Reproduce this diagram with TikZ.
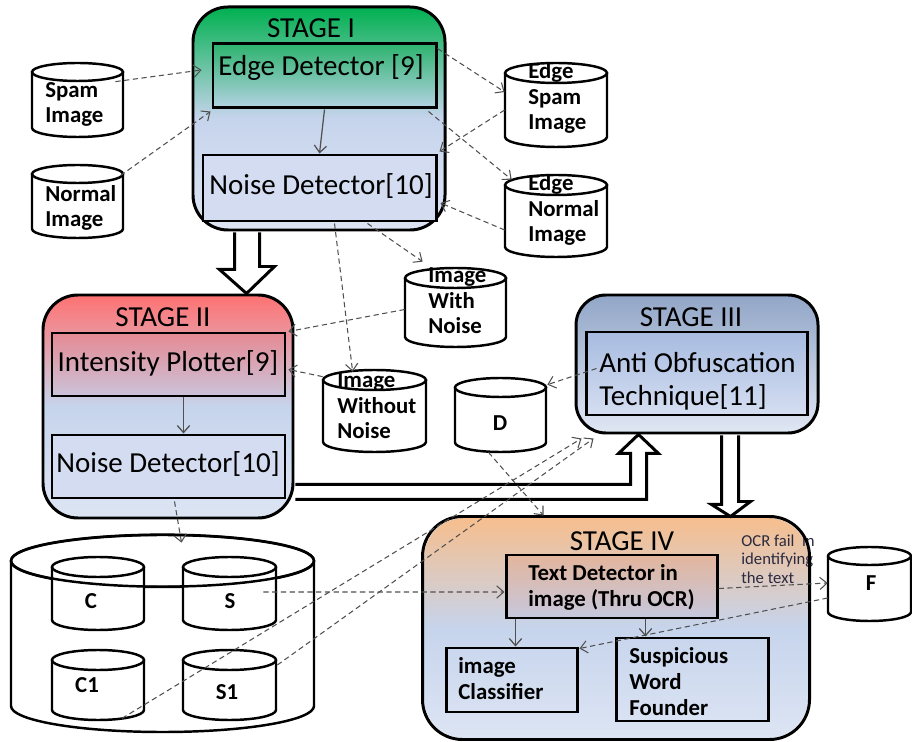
\documentclass[tikz,border=0pt]{standalone}
\usepackage{fontspec}
\setmainfont{Carlito}
\usetikzlibrary{arrows.meta,fit,calc}

\definecolor{sOneTop}{HTML}{00B050}
\definecolor{midBlue}{HTML}{C6D4EC}
\definecolor{lowBlue}{HTML}{DDE5F4}
\definecolor{boxBlue}{HTML}{D3DCF0}
\definecolor{edTop}{HTML}{2DB36E}
\definecolor{edBot}{HTML}{B4D2E2}
\definecolor{sTwoTop}{HTML}{FF7272}
\definecolor{ipTop}{HTML}{E58A93}
\definecolor{ipBot}{HTML}{CBC3DA}
\definecolor{sThreeTop}{HTML}{92A6C7}
\definecolor{sThreeBot}{HTML}{E0E7F4}
\definecolor{aoTop}{HTML}{A7BBE0}
\definecolor{aoBot}{HTML}{D5DEF1}
\definecolor{sFourTop}{HTML}{F6BE8E}
\definecolor{tdTop}{HTML}{E3B59C}
\definecolor{tdBot}{HTML}{C6C8DE}
\definecolor{conn}{HTML}{505050}
\definecolor{ocr}{HTML}{2A2A40}

\tikzset{
  stagebox/.style={draw=black, line width=1.7pt, rounded corners=0.7cm, inner sep=0pt},
  innerbox/.style={draw=black, line width=1.7pt, inner sep=0pt},
  cylline/.style={draw=black, line width=1.4pt},
  dconn/.style={draw=conn, line width=0.6pt, dash pattern=on 3pt off 2pt, -{Straight Barb[length=4pt,width=7pt]}},
  sconn/.style={draw=conn, line width=0.7pt, -{Straight Barb[length=4pt,width=7pt]}},
  hollow/.style={draw=black, line width=1.7pt, fill=white, line join=miter},
  ttl/.style={font=\fontsize{16.5}{19.3}\selectfont, inner sep=0pt, align=left},
  bl/.style={font=\fontsize{13}{14.7}\selectfont\bfseries, align=left, inner sep=0pt},
  ocrtxt/.style={font=\fontsize{9.5}{10.5}\selectfont, text=ocr, align=left, inner sep=0pt},
}

% name x1 y1 x2 y2 ry
\newcommand\dbcyl[6]{%
  \node[fit={(#2,#3)(#4,#5)}, inner sep=0pt] (#1) {};
  \path[fill=white] (#2,#3+#6) -- (#2,#5-#6)
     arc[start angle=180, end angle=0, x radius={(#4-#2)/2}, y radius=#6]
     -- (#4,#3+#6)
     arc[start angle=0, end angle=-180, x radius={(#4-#2)/2}, y radius=#6] -- cycle;
  \draw[cylline] (#2,#3+#6) -- (#2,#5-#6)
     arc[start angle=180, end angle=0, x radius={(#4-#2)/2}, y radius=#6]
     -- (#4,#3+#6);
  \draw[cylline] ({(#2+#4)/2},#3+#6) ellipse[x radius={(#4-#2)/2}, y radius=#6];
}

\begin{document}
\begin{tikzpicture}[x=0.02cm, y=-0.02cm]
\useasboundingbox (0,0) rectangle (912,742);
\clip (0,0) rectangle (912,742);

% ---------- stages ----------
\node[stagebox, fit={(193,7)(445,230)}, top color=sOneTop, bottom color=lowBlue, middle color=midBlue] (st1) {};
\node[stagebox, fit={(43,295)(293,518)}, top color=sTwoTop, bottom color=lowBlue, middle color=midBlue] (st2) {};
\node[stagebox, rounded corners=0.6cm, fit={(576,295)(818,433)}, top color=sThreeTop, bottom color=sThreeBot] (st3) {};
\node[stagebox, draw=none, rounded corners=0.8cm, fit={(424,518)(808,738)}, top color=sFourTop, bottom color=lowBlue, middle color=midBlue] (st4) {};

\node[ttl, anchor=base] (t1) at (311,38) {STAGE I};
\node[ttl, anchor=base] (t2) at (163,327) {STAGE II};
\node[ttl, anchor=base] (t3) at (691,327) {STAGE III};
\node[ttl, anchor=base] (t4) at (622,550) {STAGE IV};

% ---------- inner boxes ----------
\node[innerbox, fit={(213,44)(436,108)}, top color=edTop, bottom color=edBot] (ed) {};
\node[innerbox, fit={(203,155)(436,221)}, fill=boxBlue] (nd1) {};
\node[innerbox, fit={(52,333)(285,396)}, top color=ipTop, bottom color=ipBot] (ip) {};
\node[innerbox, fit={(52,435)(285,498)}, fill=boxBlue] (nd2) {};
\node[innerbox, fit={(586,332)(807,415)}, top color=aoTop, bottom color=aoBot] (ao) {};
\node[innerbox, fit={(506,555)(717,618)}, top color=tdTop, bottom color=tdBot] (td) {};
\node[innerbox, fit={(446,648)(577,712)}] (ic) {};
\node[innerbox, fit={(616,638)(768,721)}] (sw) {};

\node[ttl, anchor=base] (led) at (321,76) {Edge Detector [9]};
\node[ttl, anchor=base] (lnd1) at (321,195) {Noise Detector[10]};
\node[ttl, anchor=base] (lip) at (168,372) {Intensity Plotter[9]};
\node[ttl, anchor=base] (lnd2) at (168,473) {Noise Detector[10]};
\node[ttl, anchor=base west] (lao) at (599,406) {Anti Obfuscation\\Technique[11]};
\node[bl, anchor=base west] (ltd) at (528,606) {Text Detector in\\image (Thru OCR)};
\node[bl, anchor=base west] (lic) at (458,699) {image\\Classifier};
\node[bl, anchor=base west] (lsw) at (629,715) {Suspicious\\Word\\Founder};

% ---------- cylinders ----------
\dbcyl{sp}{32}{63}{123}{137}{9}
\dbcyl{nm}{32}{165}{123}{238}{9}
\dbcyl{es}{505}{63}{607}{147}{10}
\dbcyl{en}{505}{175}{607}{257}{10}
\dbcyl{iwn}{405}{268}{506}{347}{10}
\dbcyl{iwon}{323}{370}{426}{452}{10}
\dbcyl{dd}{455}{378}{546}{452}{9.5}
\dbcyl{ff}{828}{547}{911}{621}{9}
\dbcyl{bc}{11}{535}{314}{732}{26}
\dbcyl{cc}{52}{557}{144}{630}{10}
\dbcyl{cs}{183}{557}{276}{630}{10}
\dbcyl{cc1}{52}{650}{144}{720}{10}
\dbcyl{cs1}{183}{650}{276}{720}{10}
\draw[cylline] ($(bc.north)+(0,26)$) ellipse[x radius=151.5, y radius=26];

\node[bl, anchor=base west] (lsp) at (45,123) {Spam\\Image};
\node[bl, anchor=base west] (lnm) at (45,227) {Normal\\Image};
\node[bl, anchor=base west] (les) at (528,130) {Edge\\Spam\\Image};
\node[bl, anchor=base west] (len) at (528,242) {Edge\\Normal\\Image};
\node[bl, anchor=base west] (liwn) at (428,334) {Image\\With\\Noise};
\node[bl, anchor=base west] (liwon) at (337,439) {Image\\Without\\Noise};
\node[bl, anchor=base] (ldd) at (500,431) {D};
\node[bl, anchor=base] (lff) at (871,590) {F};
\node[bl, anchor=base] (lcc) at (91,608) {C};
\node[bl, anchor=base] (lcs) at (230,608) {S};
\node[bl, anchor=base] (lcc1) at (87,692) {C1};
\node[bl, anchor=base] (lcs1) at (227,699) {S1};

\node[ocrtxt, anchor=base west] (locr) at (741,583) {OCR fail\ \ in\\identifying\\the text};
\draw[stagebox, rounded corners=0.8cm] (st4.north west) rectangle (st4.south east);

% ---------- hollow arrows ----------
\draw[hollow] ($(st1.south west)+(43,1)$) -- ++(0,37) -- ++(-15,0)
   -- ($(st2.north west)+(205,0)$) -- ++(28,-27) -- ++(-15,0)
   -- ($(st1.south west)+(68,1)$);
\draw[hollow] ($(st3.south west)+(147,1)$) -- ++(0,69) -- ++(-10,0)
   -- ($(st4.north west)+(308,0)$) -- ++(20,-15) -- ++(-12,0)
   -- ($(st3.south west)+(164,1)$);
\draw[hollow] ($(st2.south east)+(1,-35)$) -- ($(st3.south west)+(56,50)$) -- ++(0,-31) -- ++(-12,0)
   -- ($(st3.south west)+(64,0)$) -- ++(20,19) -- ++(-12,0) -- ++(0,46)
   -- ($(st2.south east)+(1,-20)$);

% ---------- solid arrows ----------
\draw[sconn] (ed.south) -- (nd1.north);
\draw[sconn] ($(ip.south)+(15,0)$) -- ($(nd2.north)+(15,0)$);
\draw[sconn] ($(td.south west)+(11,0)$) -- ($(ic.north west)+(71,0)$);
\draw[sconn] ($(td.south west)+(141,0)$) -- ($(sw.north west)+(31,0)$);

% ---------- dashed arrows ----------
\draw[dconn] ($(sp.north east)+(-8,19)$) -- ($(ed.west)+(-10,-6)$);
\draw[dconn] ($(nm.north east)+(-3,11)$) -- ($(ed.south west)+(-1,2)$);
\draw[dconn] ($(ed.north east)+(0,6)$) -- ($(es.west)+(0,-13)$);
\draw[dconn] ($(ed.south east)+(-9,2)$) -- ($(en.north west)+(7,5)$);
\draw[dconn] ($(es.west)+(0,5)$) -- ($(nd1.north east)+(2,-2)$);
\draw[dconn] ($(en.west)+(0,14)$) -- ($(nd1.east)+(3,15)$);
\draw[dconn] ($(nd1.south)+(48,1)$) -- ($(iwn.north west)+(18,-6)$);
\draw[dconn] ($(nd1.south)+(15,1)$) -- ($(iwon.north west)+(30,2)$);
\draw[dconn] ($(iwn.west)+(0,2)$) -- ($(ip.north east)+(2,0)$);
\draw[dconn] ($(iwon.north west)+(0,7)$) -- ($(ip.east)+(2,5)$);
\draw[dconn] ($(ao.west)+(12,-5)$) -- ($(dd.north east)+(1,7)$);
\draw[dconn] ($(dd.south)+(-12,0)$) -- ($(st4.north west)+(121,-1)$);
\draw[dconn] ($(nd2.south)+(6,2)$) -- ($(bc.north)+(19,8)$);
\draw[dconn] ($(cs.east)+(-13,-1.5)$) -- ($(td.west)+(0,5.5)$);
\draw[dconn] ($(cc1.south)+(24,-2)$) -- ($(st3.south west)+(7,4)$);
\draw[dconn] ($(cs1.east)+(1,-20)$) -- ($(st3.south west)+(19,4)$);
\draw[dconn] ($(td.east)+(0,2)$) -- ($(ff.west)+(0,-1)$);
\draw[dconn] ($(ff.west)+(0,14)$) -- ($(ic.north east)+(1,2)$);
\end{tikzpicture}
\end{document}
